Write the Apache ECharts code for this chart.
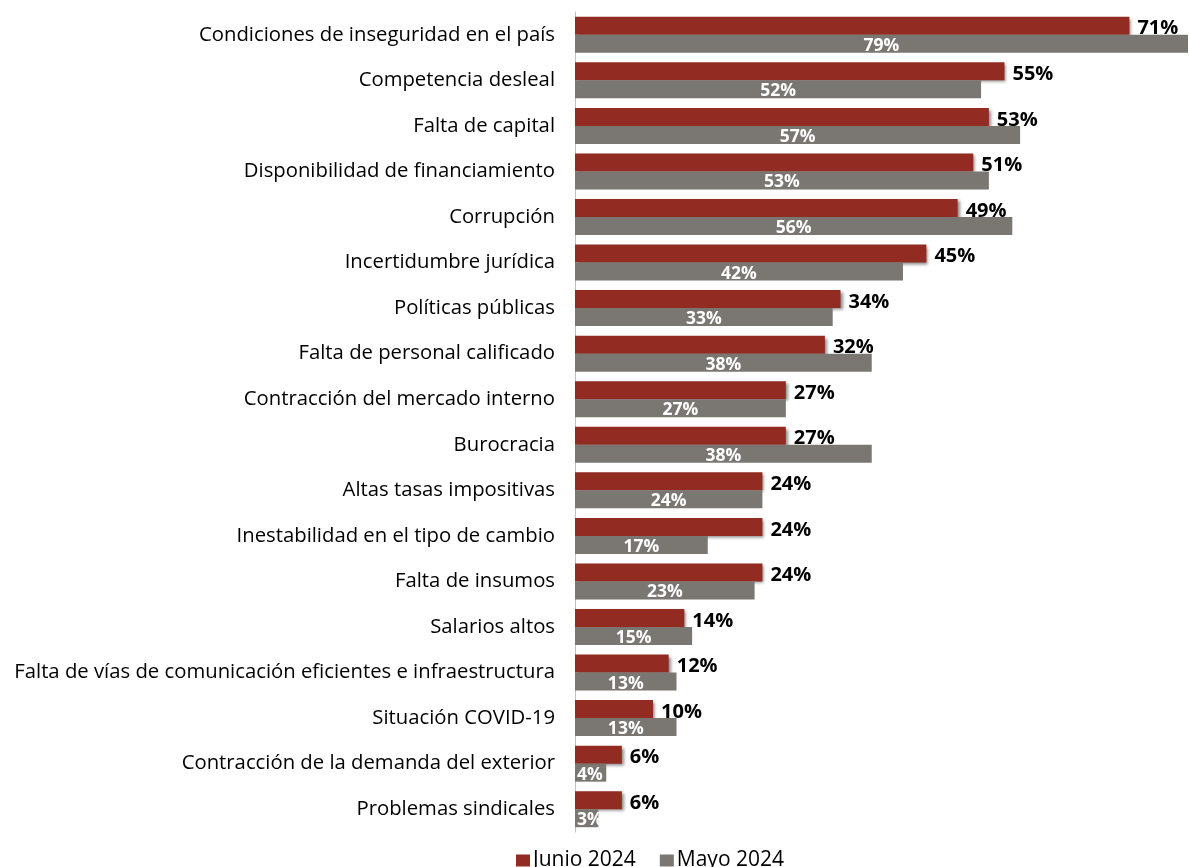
<!DOCTYPE html>
<html><head><meta charset="utf-8">
<script src="https://cdn.jsdelivr.net/npm/echarts@6/dist/echarts.min.js"></script>
<style>html,body{margin:0;padding:0;background:#fff}#c{width:1190px;height:867px}</style>
</head><body><div id="c"></div>
<script>
const categories = [
  "Condiciones de inseguridad en el país",
  "Competencia desleal",
  "Falta de capital",
  "Disponibilidad de financiamiento",
  "Corrupción",
  "Incertidumbre jurídica",
  "Políticas públicas",
  "Falta de personal calificado",
  "Contracción del mercado interno",
  "Burocracia",
  "Altas tasas impositivas",
  "Inestabilidad en el tipo de cambio",
  "Falta de insumos",
  "Salarios altos",
  "Falta de vías de comunicación eficientes e infraestructura",
  "Situación COVID-19",
  "Contracción de la demanda del exterior",
  "Problemas sindicales"
];
const junio2024 = [71, 55, 53, 51, 49, 45, 34, 32, 27, 27, 24, 24, 24, 14, 12, 10, 6, 6];
const mayo2024  = [79, 52, 57, 53, 56, 42, 33, 38, 27, 38, 24, 17, 23, 15, 13, 13, 4, 3];

const FONT = "Open Sans";
const mayoData = mayo2024.map(v => v < 5 ? { value: v, label: { position: 'insideLeft', distance: 2 } } : v);

const chart = echarts.init(document.getElementById('c'));
chart.setOption({
  animation: false,
  textStyle: { fontFamily: FONT },
  grid: { left: 575, right: 2, top: 12, bottom: 35, containLabel: false },
  legend: {
    bottom: -9, left: 511,
    itemWidth: 14, itemHeight: 12, itemGap: 24,
    icon: 'rect',
    textStyle: { fontSize: 21, color: '#000', fontFamily: FONT, padding: [0, 0, 0, -2] },
    data: ['Junio 2024', 'Mayo 2024']
  },
  xAxis: {
    type: 'value', min: 0, max: 78.5,
    show: false
  },
  yAxis: {
    type: 'category', inverse: true, data: categories,
    axisLine: { show: true, lineStyle: { color: '#BFBFBF', width: 1 } },
    axisTick: { show: false },
    axisLabel: { fontSize: 20.3, color: '#000', margin: 20, fontFamily: FONT }
  },
  series: [
    {
      name: 'Junio 2024', type: 'bar', data: junio2024,
      barGap: '0%', barCategoryGap: '21%',
      itemStyle: { color: '#922B21', shadowBlur: 3, shadowColor: 'rgba(0,0,0,0.45)', shadowOffsetX: 2, shadowOffsetY: 2 },
      label: { show: true, position: 'right', formatter: '{c}%', fontSize: 20, fontWeight: 'bold', color: '#000', offset: [0, 3], distance: 8, fontFamily: FONT }
    },
    {
      name: 'Mayo 2024', type: 'bar', data: mayoData,
      itemStyle: { color: '#7A7772' },
      label: { show: true, position: 'inside', formatter: '{c}%', fontSize: 17.5, fontWeight: 'bold', color: '#fff', offset: [0, 2], fontFamily: FONT }
    }
  ]
});
</script></body></html>
